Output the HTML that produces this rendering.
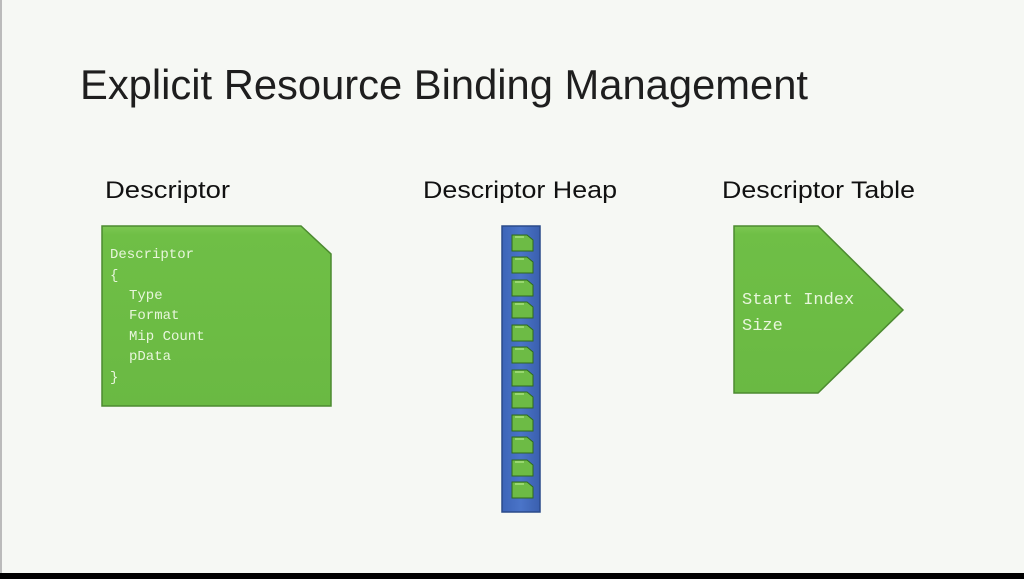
<!DOCTYPE html>
<html><head><meta charset="utf-8"><style>
html,body{margin:0;padding:0;background:#f6f8f4;}
svg{display:block}
</style></head><body>
<svg width="1024" height="579" viewBox="0 0 1024 579" xmlns="http://www.w3.org/2000/svg">
<defs>
<linearGradient id="g" x1="0" y1="0" x2="0" y2="1"><stop offset="0" stop-color="#7cc752"/><stop offset="0.05" stop-color="#6fbf46"/><stop offset="1" stop-color="#6ab943"/></linearGradient>
<linearGradient id="b" x1="0" y1="0" x2="1" y2="0"><stop offset="0" stop-color="#3c64b8"/><stop offset="0.5" stop-color="#4a74c8"/><stop offset="1" stop-color="#3a5fae"/></linearGradient>
<g id="it"><path d="M0 0 H15 L21 5 V16 H0 Z" fill="#6dbb45" stroke="#2f6a1c" stroke-width="1"/><line x1="3" y1="2" x2="12" y2="2" stroke="#a8e07e" stroke-width="1.5"/></g>
</defs>
<rect x="0" y="0" width="1024" height="579" fill="#f6f8f4"/>
<rect x="0" y="0" width="2" height="573" fill="#bbb"/>
<rect x="0" y="573" width="1024" height="6" fill="#000"/>
<text x="80" y="99" font-family="Liberation Sans, sans-serif" font-size="42" fill="#1e1e1e" textLength="728" lengthAdjust="spacingAndGlyphs">Explicit Resource Binding Management</text>
<g font-family="Liberation Sans, sans-serif" font-size="24" fill="#111">
<text x="105" y="198" textLength="125" lengthAdjust="spacingAndGlyphs">Descriptor</text>
<text x="423" y="198" textLength="194" lengthAdjust="spacingAndGlyphs">Descriptor Heap</text>
<text x="722" y="198" textLength="193" lengthAdjust="spacingAndGlyphs">Descriptor Table</text>
</g>
<path d="M102 226 H301 L331 254 V406 H102 Z" fill="url(#g)" stroke="#4c8a30" stroke-width="1.5"/>
<g font-family="Liberation Mono, monospace" font-size="14" fill="#e8f6dc">
<text x="110" y="258">Descriptor</text>
<text x="110" y="279">{</text>
<text x="129" y="299">Type</text>
<text x="129" y="319">Format</text>
<text x="129" y="340">Mip Count</text>
<text x="129" y="360">pData</text>
<text x="110" y="381">}</text>
</g>
<rect x="502" y="226" width="38" height="286" fill="url(#b)" stroke="#2a4a8a" stroke-width="1.5"/>
<use href="#it" x="512" y="235"/><use href="#it" x="512" y="257"/><use href="#it" x="512" y="280"/><use href="#it" x="512" y="302"/>
<use href="#it" x="512" y="325"/><use href="#it" x="512" y="347"/><use href="#it" x="512" y="370"/><use href="#it" x="512" y="392"/>
<use href="#it" x="512" y="415"/><use href="#it" x="512" y="437"/><use href="#it" x="512" y="460"/><use href="#it" x="512" y="482"/>
<path d="M734 226 H818 L903 310 L818 393 H734 Z" fill="url(#g)" stroke="#4c8a30" stroke-width="1.5"/>
<g font-family="Liberation Mono, monospace" font-size="17" fill="#e8f6dc">
<text x="742" y="304">Start Index</text>
<text x="742" y="330">Size</text>
</g>
</svg>
</body></html>
